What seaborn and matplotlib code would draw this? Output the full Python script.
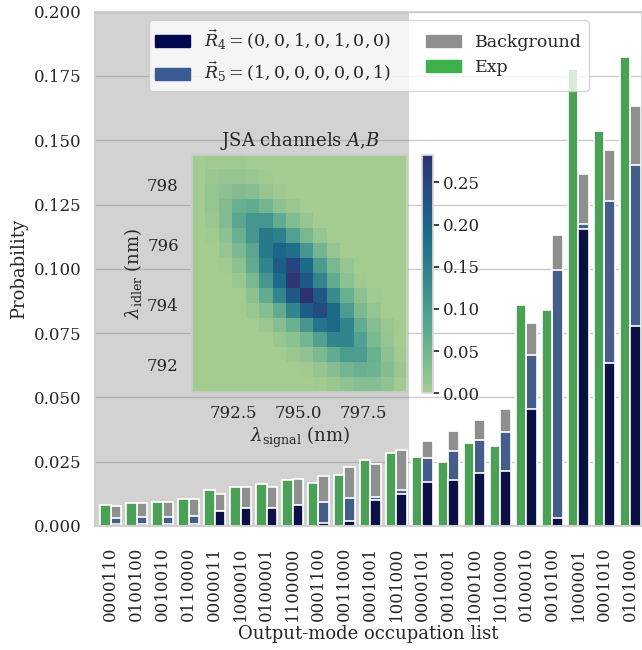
import numpy as np
import pandas as pd
import seaborn as sns
from matplotlib import pyplot as plt
from matplotlib.patches import Patch

labels = ["0000110", "0100100", "0010010", "0110000", "0000011", "1000010", "0100001",
          "1100000", "0001100", "0011000", "0001001", "1001000", "0000101", "0010001",
          "1000100", "1010000", "0100010", "0010100", "1000001", "0001010", "0101000"]

exp = [0.0080, 0.0090, 0.0093, 0.0105, 0.0139, 0.0153, 0.0164, 0.0179, 0.0166, 0.0196, 0.0257,
       0.0285, 0.0267, 0.0250, 0.0324, 0.0311, 0.0861, 0.0839, 0.1779, 0.1535, 0.1825]
r4 = [0.0007, 0.0008, 0.0007, 0.0009, 0.0058, 0.0070, 0.0071, 0.0082, 0.0010, 0.0017, 0.0101,
      0.0123, 0.0169, 0.0180, 0.0204, 0.0215, 0.0455, 0.0030, 0.1156, 0.0635, 0.0779]
r5 = [0.0025, 0.0027, 0.0029, 0.0030, 0.0, 0.0, 0.0, 0.0, 0.0082, 0.0092, 0.0013,
      0.0017, 0.0094, 0.0112, 0.0129, 0.0150, 0.0210, 0.0967, 0.0018, 0.0630, 0.0626]
background = [0.0046, 0.0053, 0.0057, 0.0065, 0.0067, 0.0081, 0.0082, 0.0101, 0.0100, 0.0119, 0.0128,
              0.0156, 0.0069, 0.0078, 0.0080, 0.0090, 0.0125, 0.0134, 0.0193, 0.0197, 0.0227]

# JSA heatmap (rows top -> bottom, idler 799 -> 791)
jsa = [
    [0, .005, .005, .005, 0, 0, 0, 0, 0, 0, 0, 0, 0, 0, 0, 0],
    [0, .01, .015, .015, .01, .005, 0, 0, 0, 0, 0, 0, 0, 0, 0, 0],
    [0, .015, .025, .035, .03, .015, .005, 0, 0, 0, 0, 0, 0, 0, 0, 0],
    [0, .015, .035, .06, .07, .05, .025, .01, 0, 0, 0, 0, 0, 0, 0, 0],
    [0, .01, .035, .08, .11, .11, .07, .035, .015, 0, 0, 0, 0, 0, 0, 0],
    [0, .005, .025, .06, .11, .16, .15, .09, .045, .015, 0, 0, 0, 0, 0, 0],
    [0, 0, .015, .04, .08, .16, .20, .18, .11, .05, .015, 0, 0, 0, 0, 0],
    [0, 0, .005, .025, .07, .14, .21, .25, .19, .10, .045, .015, 0, 0, 0, 0],
    [0, 0, 0, .01, .045, .11, .19, .27, .22, .14, .07, .025, .005, 0, 0, 0],
    [0, 0, 0, 0, .025, .07, .14, .22, .28, .22, .13, .06, .025, .005, 0, 0],
    [0, 0, 0, 0, .01, .03, .07, .14, .21, .24, .19, .10, .04, .015, 0, 0],
    [0, 0, 0, 0, 0, .01, .03, .06, .11, .17, .19, .14, .07, .03, .01, 0],
    [0, 0, 0, 0, 0, 0, .01, .025, .05, .09, .14, .14, .09, .04, .015, 0],
    [0, 0, 0, 0, 0, 0, 0, .01, .02, .04, .07, .10, .10, .06, .025, .005],
    [0, 0, 0, 0, 0, 0, 0, 0, .005, .015, .03, .05, .06, .055, .035, .01],
    [0, 0, 0, 0, 0, 0, 0, 0, 0, .005, .01, .02, .03, .03, .02, .005],
]

green = '#3bb04b'
gray = '#8f8f8f'
blue = '#3a5b94'
navy = '#02084f'

sns.set_theme(style='whitegrid', font='DejaVu Serif')
plt.rcParams['font.family'] = ['DejaVu Serif']
plt.rcParams['mathtext.fontset'] = 'dejavuserif'

fig = plt.figure(figsize=(6.42, 6.5), dpi=100)
ax = fig.add_axes([0.148, 0.191, 0.852, 0.791])

ax.axvspan(-1, 11.5, color='gray', alpha=0.35, lw=0)

n = len(labels)
tot = np.array(r4) + np.array(r5) + np.array(background)
layers = [(tot, gray), (np.array(r4) + np.array(r5), blue), (np.array(r4), navy)]
for vals, col in layers:
    df = pd.DataFrame({'occ': labels * 2,
                       'kind': ['Exp'] * n + ['Sim'] * n,
                       'p': list(exp) + list(vals)})
    sns.barplot(data=df, x='occ', y='p', hue='kind', hue_order=['Exp', 'Sim'],
                order=labels, palette={'Exp': green, 'Sim': col}, dodge=True,
                width=0.8, errorbar=None, edgecolor='white', linewidth=1.2,
                legend=False, ax=ax)

ax.set_xlim(-0.6, 20.45)
ax.set_ylim(0, 0.2)
ax.set_yticks(np.arange(0, 0.2001, 0.025))
ax.yaxis.set_major_formatter(plt.FormatStrFormatter('%.3f'))
ax.tick_params(axis='x', rotation=90, labelsize=12, pad=9)
ax.tick_params(axis='y', labelsize=12)
ax.set_xlabel('Output-mode occupation list', fontsize=13, labelpad=3)
ax.set_ylabel('Probability', fontsize=13)

handles = [Patch(color=navy, label=r'$\vec{R}_4 = (0, 0, 1, 0, 1, 0, 0)$'),
           Patch(color=blue, label=r'$\vec{R}_5 = (1, 0, 0, 0, 0, 0, 1)$'),
           Patch(color=gray, label='Background'),
           Patch(color=green, label='Exp')]
ax.legend(handles=handles, ncol=2, loc='upper center', fontsize=12.5,
          framealpha=0.8, columnspacing=2.0, bbox_to_anchor=(0.5, 1.0))

# inset JSA
axin = fig.add_axes([0.299, 0.397, 0.335, 0.365])
cax = fig.add_axes([0.657, 0.395, 0.017, 0.366])
im = axin.imshow(np.array(jsa), cmap=sns.color_palette('crest', as_cmap=True),
                 extent=[790.9, 799.2, 791.1, 799.0], aspect='auto',
                 vmin=0, vmax=0.282, interpolation='nearest')
axin.set_facecolor('none')
axin.grid(False)
axin.set_xticks([792.5, 795.0, 797.5])
axin.set_yticks([792, 794, 796, 798])
axin.tick_params(labelsize=12)
axin.set_xlabel(r'$\lambda_{\rm signal}$ (nm)', fontsize=13, labelpad=2)
axin.set_ylabel(r'$\lambda_{\rm idler}$ (nm)', fontsize=13, labelpad=2)
axin.set_title(r'JSA channels $A$,$B$', fontsize=13, pad=6)
cb = fig.colorbar(im, cax=cax, ticks=[0, 0.05, 0.1, 0.15, 0.2, 0.25])
cb.ax.yaxis.set_major_formatter(plt.FormatStrFormatter('%.2f'))
cb.ax.tick_params(labelsize=12, length=4)
cb.outline.set_edgecolor('0.85')

plt.savefig('out.png')
